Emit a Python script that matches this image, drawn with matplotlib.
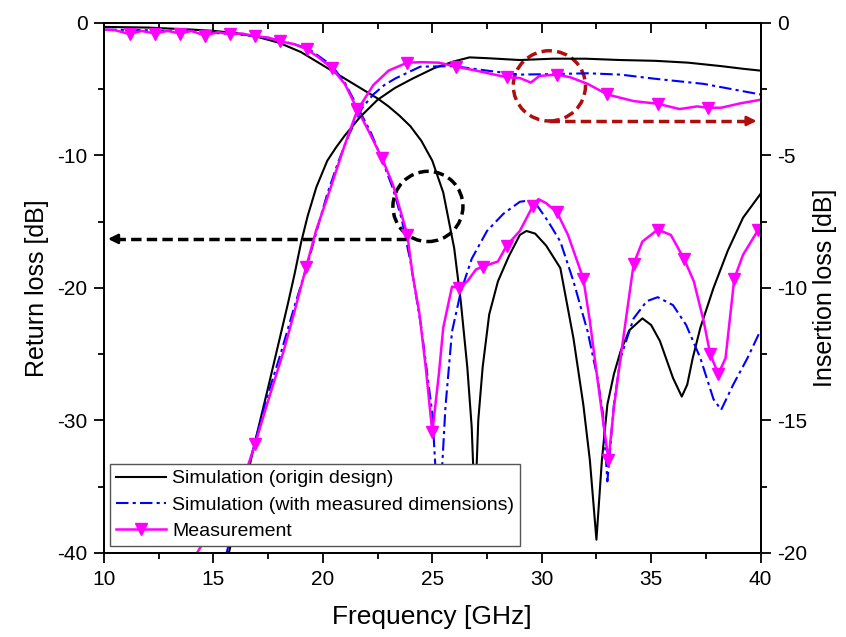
import numpy as np
import matplotlib
matplotlib.use("Agg")
import matplotlib.pyplot as plt
from matplotlib.patches import Ellipse
from matplotlib.lines import Line2D
from matplotlib.ticker import MultipleLocator

plt.rcParams['font.family'] = ['Liberation Sans', 'DejaVu Sans']
plt.rcParams['axes.unicode_minus'] = False

# ---- return loss (left axis, dB) ----
sim_s11_f = [10.0, 12.0, 14.0, 15.0, 16.0, 17.0, 18.0, 19.0, 20.0, 21.0, 22.0, 22.5, 23.0,
             23.5, 24.0, 24.5, 25.0, 25.5, 26.0, 26.3, 26.6, 26.8, 26.95, 27.1, 27.3, 27.6,
             28.0, 28.5, 29.0, 29.3, 29.7, 30.2, 30.85, 31.45, 31.9, 32.2, 32.5, 32.75, 33.0,
             33.3, 33.6, 34.0, 34.6, 35.0, 35.4, 36.0, 36.4, 36.65, 36.9, 37.25, 37.85, 38.5,
             39.2, 40.0]
sim_s11_db = [-0.3, -0.35, -0.5, -0.6, -0.76, -1.05, -1.5, -2.2, -3.2, -4.2, -5.2, -5.7, -6.3,
              -7.0, -7.8, -8.9, -10.4, -12.8, -17.0, -21.0, -26.0, -30.5, -37.0, -30.0, -26.0, -22.0,
              -19.5, -17.6, -16.0, -15.7, -15.9, -16.8, -18.5, -23.8, -28.8, -33.0, -39.0, -33.0, -28.8,
              -26.5, -24.8, -23.2, -22.3, -22.8, -24.0, -26.8, -28.2, -27.3, -25.3, -23.0, -20.0, -17.2,
              -14.7, -12.9]

dim_s11_f = [10.0, 12.0, 14.0, 16.0, 17.0, 18.0, 19.3, 20.4, 21.0, 21.57, 22.2, 22.7, 23.2,
             23.6, 24.0, 24.5, 25.0, 25.3, 25.6, 25.9, 26.3, 26.8, 27.5, 28.25, 29.0, 29.4,
             29.8, 30.3, 30.85, 31.45, 32.1, 32.55, 32.8, 33.0, 33.3, 33.6, 34.2, 34.8, 35.3,
             36.0, 36.6, 37.25, 37.85, 38.2, 38.75, 39.4, 40.0]
dim_s11_db = [-0.5, -0.55, -0.65, -0.85, -1.0, -1.3, -1.9, -3.2, -4.5, -6.3, -8.3, -10.3, -12.5,
              -14.8, -18.0, -23.0, -29.5, -38.0, -29.0, -23.3, -20.3, -17.8, -15.7, -14.4, -13.5, -13.4,
              -13.8, -15.0, -16.5, -19.5, -23.3, -26.8, -29.5, -34.6, -28.8, -25.3, -22.3, -21.0, -20.7,
              -21.3, -22.8, -25.3, -28.4, -29.2, -27.3, -25.3, -23.2]

meas_s11_f = [10.0, 10.5, 11.19, 11.7, 12.33, 12.9, 13.47, 14.0, 14.6, 15.2, 15.76, 16.3, 16.9,
              17.5, 18.05, 18.7, 19.28, 19.8, 20.4, 21.0, 21.57, 22.1, 22.7, 23.2, 23.86, 24.1,
              24.4, 24.7, 25.0, 25.3, 25.5, 25.9, 26.2, 26.6, 27.0, 27.3, 28.0, 28.4, 29.0, 29.6,
              29.85, 30.2, 30.7, 31.2, 31.9, 32.2, 32.5, 32.8, 33.05, 33.3, 33.6, 34.2, 34.6, 35.3,
              35.9, 36.5, 36.95, 37.4, 37.7, 38.07, 38.4, 38.8, 39.2, 39.9, 40.0]
meas_s11_db = [-0.5, -0.55, -0.85, -0.6, -0.8, -0.6, -0.8, -0.6, -0.95, -0.7, -0.85, -0.8, -1.0,
               -1.1, -1.4, -1.6, -2.0, -2.6, -3.4, -4.6, -6.5, -8.2, -10.2, -12.2, -16.0, -19.0,
               -21.8, -26.0, -30.9, -26.5, -23.0, -19.9, -20.0, -19.5, -18.6, -18.4, -18.0, -16.8, -15.7, -13.8,
               -13.3, -13.6, -14.3, -16.0, -19.3, -22.5, -26.3, -30.0, -33.0, -29.0, -25.3, -18.2, -16.5, -15.6,
               -16.0, -17.8, -19.5, -22.5, -25.0, -26.5, -25.3, -19.3, -17.5, -15.6, -15.5]
meas_s11_marks = [11.19, 12.33, 13.47, 14.6, 15.76, 16.9, 18.05, 19.28, 20.4, 21.57, 22.7, 23.86,
                  25.0, 26.2, 27.3, 28.4, 29.6, 30.7, 31.9, 33.05, 34.2, 35.3, 36.5, 37.7, 38.07,
                  38.8, 39.9]

# ---- insertion loss (right axis, dB) ----
sim_s21_f = [15.7, 16.3, 16.9, 17.5, 18.0, 18.4, 18.7, 19.0, 19.3, 19.7, 20.2, 20.6, 21.0,
             21.7, 22.5, 23.3, 24.1, 25.1, 26.0, 26.7, 27.5, 29.0, 30.5, 32.0, 33.6, 35.2,
             36.7, 38.2, 39.2, 40.0]
sim_s21_db = [-20.0, -18.0, -15.8, -13.75, -12.0, -10.6, -9.5, -8.3, -7.3, -6.2, -5.2, -4.7, -4.25,
              -3.55, -2.9, -2.45, -2.1, -1.7, -1.45, -1.3, -1.33, -1.4, -1.35, -1.35, -1.4, -1.43,
              -1.5, -1.63, -1.73, -1.8]

dim_s21_f = [15.6, 16.6, 17.4, 18.1, 18.7, 19.3, 19.8, 20.2, 20.7, 21.2, 21.8, 22.3, 22.8,
             23.3, 24.45, 26.0, 27.5, 29.0, 30.5, 32.1, 33.6, 35.1, 37.4, 40.0]
dim_s21_db = [-20.0, -16.75, -14.25, -12.4, -10.7, -9.1, -7.6, -6.45, -5.25, -4.2, -3.2, -2.7, -2.35,
              -2.1, -1.65, -1.63, -1.8, -1.95, -1.93, -1.9, -1.95, -2.1, -2.3, -2.7]

meas_s21_f = [14.25, 15.5, 16.6, 16.9, 17.5, 18.2, 18.7, 19.24, 19.7, 20.2, 20.6, 21.0, 21.57,
              22.3, 23.0, 23.85, 24.5, 25.3, 26.1, 27.0, 28.4, 29.0, 29.5, 29.9, 30.7, 31.3,
              32.1, 33.0, 34.2, 35.3, 36.3, 37.1, 37.6, 38.2, 39.1, 40.0]
meas_s21_db = [-20.0, -18.25, -16.65, -15.9, -14.25, -12.4, -10.9, -9.2, -7.8, -6.6, -5.6, -4.6, -3.3,
               -2.35, -1.8, -1.5, -1.48, -1.5, -1.65, -1.8, -2.05, -2.08, -2.25, -2.0, -1.95, -2.05,
               -2.3, -2.7, -2.95, -3.05, -3.25, -3.15, -3.2, -3.2, -3.03, -2.9]
meas_s21_marks = [16.9, 19.24, 21.57, 23.85, 26.1, 28.4, 30.7, 33.0, 35.3, 37.6]


def mark_idx(freqs, marks):
    freqs = np.asarray(freqs)
    return [int(np.argmin(np.abs(freqs - m))) for m in marks]


fig = plt.figure(figsize=(8.46, 6.37), dpi=100)
ax = fig.add_axes([0.123, 0.132, 0.776, 0.832])
ax2 = ax.twinx()

lw = 1.5
dashdot = (0, (6, 2, 1.5, 2))
ax.plot(sim_s11_f, sim_s11_db, color='black', lw=lw)
ax.plot(dim_s11_f, dim_s11_db, color='#0000FF', lw=lw, ls=dashdot)
ax.plot(meas_s11_f, meas_s11_db, color='#FF00FF', lw=1.8, marker='v', ms=8,
        markevery=mark_idx(meas_s11_f, meas_s11_marks))

ax2.plot(sim_s21_f, sim_s21_db, color='black', lw=lw)
ax2.plot(dim_s21_f, dim_s21_db, color='#0000FF', lw=lw, ls=dashdot)
ax2.plot(meas_s21_f, meas_s21_db, color='#FF00FF', lw=1.8, marker='v', ms=8,
         markevery=mark_idx(meas_s21_f, meas_s21_marks))

# annotations: dashed circles + arrows pointing to the matching axis
ax.add_patch(Ellipse((24.8, -13.85), 3.2, 5.3, fill=False, ls=(0, (3, 1.5)), lw=2.5, color='black'))
ax.plot([10.5, 23.8], [-16.3, -16.3], color='black', lw=2.5, ls=(0, (3, 1.5)))
ax.annotate('', xy=(10.05, -16.3), xytext=(10.8, -16.3),
            arrowprops=dict(arrowstyle='-|>', color='black', lw=2, mutation_scale=14))

dark_red = '#B00E0E'
ax.add_patch(Ellipse((30.35, -4.75), 3.3, 5.3, fill=False, ls=(0, (3, 1.5)), lw=2.5, color=dark_red))
ax.plot([30.35, 39.4], [-7.4, -7.4], color=dark_red, lw=2.5, ls=(0, (3, 1.5)))
ax.annotate('', xy=(39.95, -7.4), xytext=(39.2, -7.4),
            arrowprops=dict(arrowstyle='-|>', color=dark_red, lw=2, mutation_scale=14))

ax.set_xlim(10, 40)
ax.set_ylim(-40, 0)
ax2.set_ylim(-20, 0)

ax.xaxis.set_major_locator(MultipleLocator(5))
ax.xaxis.set_minor_locator(MultipleLocator(2.5))
ax.yaxis.set_major_locator(MultipleLocator(10))
ax.yaxis.set_minor_locator(MultipleLocator(5))
ax2.yaxis.set_major_locator(MultipleLocator(5))
ax2.yaxis.set_minor_locator(MultipleLocator(2.5))

for a in (ax, ax2):
    a.tick_params(which='major', direction='out', length=7, width=1.3, labelsize=15, pad=5)
    a.tick_params(which='minor', direction='out', length=4, width=1.3)
    for s in a.spines.values():
        s.set_linewidth(1.3)

top = ax.secondary_xaxis('top')
top.xaxis.set_major_locator(MultipleLocator(5))
top.xaxis.set_minor_locator(MultipleLocator(2.5))
top.tick_params(which='major', direction='in', length=7, width=1.3, labeltop=False)
top.tick_params(which='minor', direction='in', length=4, width=1.3)
top.spines['top'].set_linewidth(1.3)

ax.set_xlabel('Frequency [GHz]', fontsize=19, labelpad=12)
ax.set_ylabel('Return loss [dB]', fontsize=18, labelpad=6)
ax2.set_ylabel('Insertion loss [dB]', fontsize=18, labelpad=4)

handles = [
    Line2D([], [], color='black', lw=lw),
    Line2D([], [], color='#0000FF', lw=lw, ls=dashdot),
    Line2D([], [], color='#FF00FF', lw=1.8, marker='v', ms=8),
]
labels = ['Simulation (origin design)', 'Simulation (with measured dimensions)', 'Measurement']
leg = ax2.legend(handles, labels, loc='lower left', bbox_to_anchor=(0.009, 0.013),
                 borderaxespad=0, fontsize=14, frameon=True, fancybox=False,
                 edgecolor='#555555', framealpha=1, handlelength=2.6, handletextpad=0.3,
                 labelspacing=0.45, borderpad=0.3)
leg.get_frame().set_linewidth(1.0)
leg.set_zorder(10)

fig.savefig('out.png', dpi=100)
